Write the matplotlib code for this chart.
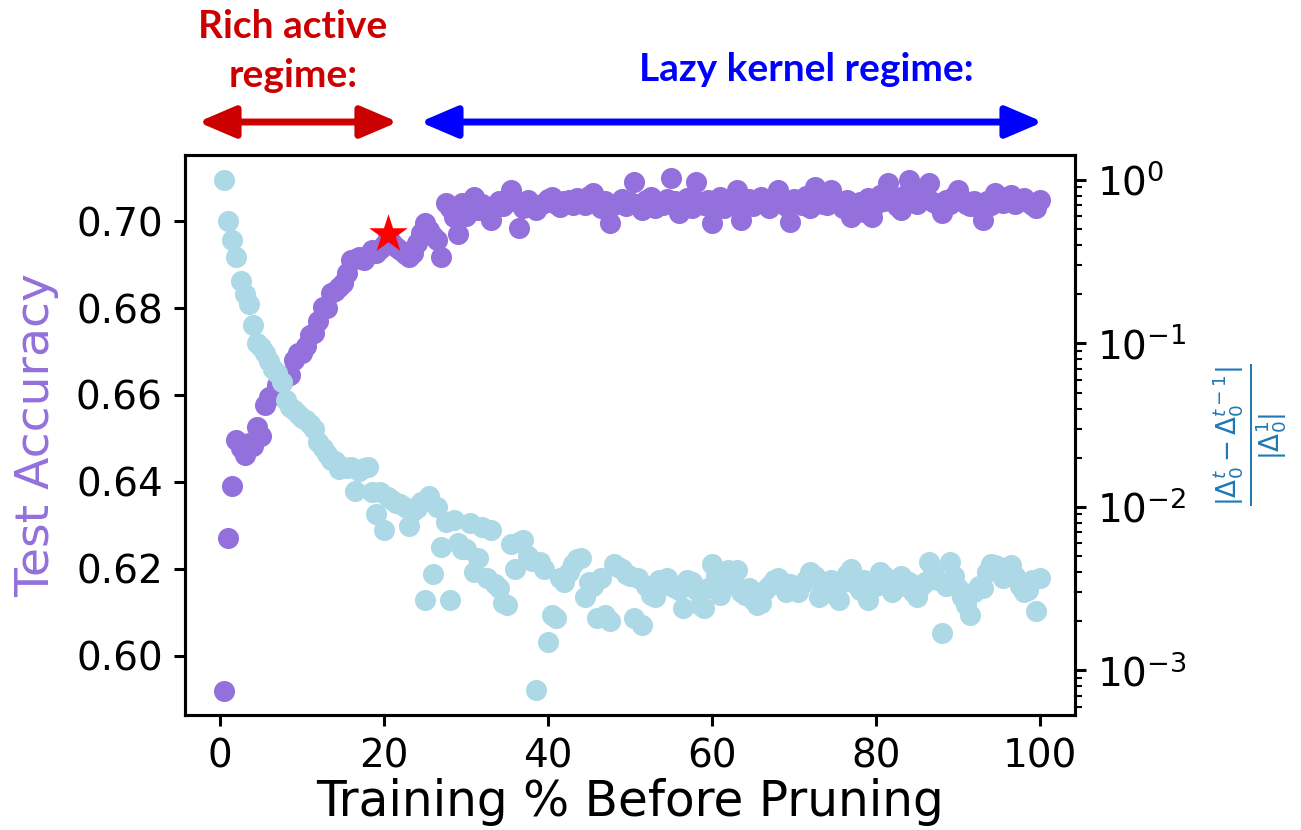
import numpy as np
import matplotlib.pyplot as plt

# training % before pruning (sample positions)
pct = [0.5, 1.0, 1.5, 2.0, 2.5, 3.0, 3.5, 4.0, 4.5, 5.0,
       5.5, 6.0, 6.5, 7.0, 7.5, 8.0, 8.5, 9.0, 9.5, 10.0,
       10.5, 11.0, 11.5, 12.0, 12.5, 13.0, 13.5, 14.0, 14.5, 15.0,
       15.5, 16.0, 16.5, 17.0, 17.5, 18.0, 18.5, 19.0, 19.5, 20.0,
       20.5, 21.0, 21.5, 22.0, 22.5, 23.0, 23.5, 24.0, 24.5, 25.0,
       25.5, 26.0, 26.5, 27.0, 27.5, 28.0, 28.5, 29.0, 29.5, 30.0,
       30.5, 31.0, 31.5, 32.0, 32.5, 33.0, 33.5, 34.0, 34.5, 35.0,
       35.5, 36.0, 36.5, 37.0, 37.5, 38.0, 38.5, 39.0, 39.5, 40.0,
       40.5, 41.0, 41.5, 42.0, 42.5, 43.0, 43.5, 44.0, 44.5, 45.0,
       45.5, 46.0, 46.5, 47.0, 47.5, 48.0, 48.5, 49.0, 49.5, 50.0,
       50.5, 51.0, 51.5, 52.0, 52.5, 53.0, 53.5, 54.0, 54.5, 55.0,
       55.5, 56.0, 56.5, 57.0, 57.5, 58.0, 58.5, 59.0, 59.5, 60.0,
       60.5, 61.0, 61.5, 62.0, 62.5, 63.0, 63.5, 64.0, 64.5, 65.0,
       65.5, 66.0, 66.5, 67.0, 67.5, 68.0, 68.5, 69.0, 69.5, 70.0,
       70.5, 71.0, 71.5, 72.0, 72.5, 73.0, 73.5, 74.0, 74.5, 75.0,
       75.5, 76.0, 76.5, 77.0, 77.5, 78.0, 78.5, 79.0, 79.5, 80.0,
       80.5, 81.0, 81.5, 82.0, 82.5, 83.0, 83.5, 84.0, 84.5, 85.0,
       85.5, 86.0, 86.5, 87.0, 87.5, 88.0, 88.5, 89.0, 89.5, 90.0,
       90.5, 91.0, 91.5, 92.0, 92.5, 93.0, 93.5, 94.0, 94.5, 95.0,
       95.5, 96.0, 96.5, 97.0, 97.5, 98.0, 98.5, 99.0, 99.5, 100.0]

test_acc = [0.5920, 0.6270, 0.6390, 0.6497, 0.6478, 0.6462, 0.6490, 0.6482, 0.6527, 0.6505,
            0.6577, 0.6595, 0.6600, 0.6623, 0.6630, 0.6641, 0.6645, 0.6680, 0.6697, 0.6697,
            0.6712, 0.6738, 0.6743, 0.6770, 0.6802, 0.6800, 0.6834, 0.6840, 0.6848, 0.6857,
            0.6880, 0.6910, 0.6912, 0.6917, 0.6910, 0.6922, 0.6933, 0.6926, 0.6935, 0.6945,
            0.6960, 0.6950, 0.6940, 0.6933, 0.6925, 0.6917, 0.6926, 0.6950, 0.6972, 0.6995,
            0.6980, 0.6965, 0.6956, 0.6917, 0.7041, 0.7030, 0.7010, 0.6970, 0.7041, 0.7012,
            0.7035, 0.7055, 0.7025, 0.7040, 0.7020, 0.7002, 0.7030, 0.7045, 0.7035, 0.7050,
            0.7071, 0.7045, 0.6984, 0.7030, 0.7048, 0.7035, 0.7025, 0.7038, 0.7042, 0.7050,
            0.7055, 0.7040, 0.7032, 0.7045, 0.7048, 0.7038, 0.7052, 0.7044, 0.7036, 0.7058,
            0.7064, 0.7040, 0.7030, 0.7046, 0.6995, 0.7038, 0.7042, 0.7050, 0.7035, 0.7044,
            0.7090, 0.7040, 0.7025, 0.7048, 0.7055, 0.7030, 0.7042, 0.7036, 0.7050, 0.7099,
            0.7045, 0.7018, 0.7040, 0.7052, 0.7030, 0.7090, 0.7044, 0.7036, 0.7048, 0.6995,
            0.7040, 0.7055, 0.7030, 0.7046, 0.7038, 0.7071, 0.7002, 0.7040, 0.7050, 0.7035,
            0.7045, 0.7055, 0.7040, 0.7030, 0.7048, 0.7071, 0.7042, 0.7035, 0.6998, 0.7050,
            0.7044, 0.7038, 0.7058, 0.7030, 0.7078, 0.7046, 0.7040, 0.7036, 0.7071, 0.7050,
            0.7042, 0.7030, 0.7048, 0.7009, 0.7038, 0.7044, 0.7020, 0.7052, 0.7009, 0.7040,
            0.7060, 0.7046, 0.7087, 0.7050, 0.7035, 0.7025, 0.7060, 0.7094, 0.7048, 0.7040,
            0.7055, 0.7070, 0.7087, 0.7044, 0.7036, 0.7018, 0.7048, 0.7040, 0.7058, 0.7071,
            0.7050, 0.7040, 0.7035, 0.7046, 0.7030, 0.7002, 0.7045, 0.7038, 0.7064, 0.7050,
            0.7042, 0.7055, 0.7060, 0.7040, 0.7048, 0.7052, 0.7044, 0.7038, 0.7030, 0.7048]

delta_ratio = [1.0, 0.56, 0.43, 0.34, 0.24, 0.20, 0.175, 0.13, 0.10, 0.095,
               0.087, 0.078, 0.070, 0.066, 0.058, 0.045, 0.041, 0.039, 0.037, 0.035,
               0.034, 0.032, 0.030, 0.025, 0.023, 0.021, 0.0195, 0.019, 0.017, 0.0175,
               0.0172, 0.0176, 0.0126, 0.0165, 0.0172, 0.0175, 0.0123, 0.0091, 0.0123, 0.0072,
               0.0115, 0.0110, 0.0106, 0.0105, 0.0100, 0.0076, 0.0095, 0.0098, 0.0108, 0.0027,
               0.0117, 0.0039, 0.0100, 0.0057, 0.0081, 0.0027, 0.0083, 0.0060, 0.0055, 0.0055,
               0.0080, 0.0040, 0.0049, 0.0075, 0.0037, 0.0072, 0.0034, 0.0032, 0.0026, 0.0025,
               0.0059, 0.0042, 0.0061, 0.0063, 0.0050, 0.0047, 0.00076, 0.0046, 0.0042, 0.0015,
               0.0022, 0.0021, 0.0037, 0.0035, 0.0040, 0.0045, 0.0048, 0.0049, 0.0028, 0.0035,
               0.0033, 0.0021, 0.0037, 0.0022, 0.0020, 0.0045, 0.0043, 0.0042, 0.0039, 0.0038,
               0.0021, 0.0037, 0.0019, 0.0033, 0.0029, 0.0028, 0.0036, 0.0034, 0.0037, 0.0033,
               0.0032, 0.0031, 0.0024, 0.0036, 0.0035, 0.0031, 0.0025, 0.0024, 0.0032, 0.0045,
               0.0038, 0.0029, 0.0033, 0.0041, 0.0037, 0.0041, 0.0030, 0.0029, 0.0032, 0.0027,
               0.0025, 0.0026, 0.0031, 0.0033, 0.0036, 0.0037, 0.0035, 0.0030, 0.0034, 0.0032,
               0.0030, 0.0034, 0.0036, 0.0040, 0.0038, 0.0028, 0.0032, 0.0034, 0.0036, 0.0029,
               0.0027, 0.0035, 0.0039, 0.0042, 0.0034, 0.0031, 0.0036, 0.0027, 0.0035, 0.0033,
               0.0040, 0.0038, 0.0034, 0.0030, 0.0036, 0.0038, 0.0033, 0.0035, 0.0030, 0.0028,
               0.0033, 0.0035, 0.0046, 0.0040, 0.0036, 0.0017, 0.0033, 0.0046, 0.0038, 0.0032,
               0.0028, 0.0025, 0.0022, 0.0030, 0.0033, 0.0032, 0.0040, 0.0045, 0.0044, 0.0043,
               0.0037, 0.0039, 0.0044, 0.0038, 0.0033, 0.0030, 0.0031, 0.0036, 0.0023, 0.0037]

best_pct = 20.5
best_acc = 0.697

fig = plt.figure(figsize=(13.01, 8.30), dpi=100)
ax = fig.add_axes([0.1422, 0.1386, 0.6841, 0.6747])
ax2 = ax.twinx()

ax.scatter(pct, test_acc, s=230, color='mediumpurple', linewidths=0)
ax.scatter([best_pct], [best_acc], s=850, marker='*', color='red', linewidths=0, zorder=5)
ax2.scatter(pct, delta_ratio, s=230, color='lightblue', linewidths=0)
ax2.set_yscale('log')

ax.set_xlim(-4.27, 104.27)
ax.set_ylim(0.5864, 0.7152)
ax2.set_ylim(10 ** -3.272, 10 ** 0.153)

ax.set_xticks([0, 20, 40, 60, 80, 100])
ax.set_yticks([0.60, 0.62, 0.64, 0.66, 0.68, 0.70])
ax.set_yticklabels(['0.60', '0.62', '0.64', '0.66', '0.68', '0.70'])

for a in (ax, ax2):
    for sp in a.spines.values():
        sp.set_linewidth(2.2)
    a.tick_params(which='major', labelsize=28, width=2.2, length=8, pad=8)
    a.tick_params(which='minor', width=1.5, length=5)

ax.set_xlabel('Training % Before Pruning', fontsize=35, labelpad=2)
ax.set_ylabel('Test Accuracy', fontsize=34, color='mediumpurple', labelpad=12)
ax2.set_ylabel(r'$\frac{|\Delta_0^t - \Delta_0^{t-1}|}{|\Delta_0^1|}$',
               fontsize=27, color='tab:blue', labelpad=18)

# regime annotations above the axes
arrow_style = '<|-|>,head_length=0.75,head_width=0.32'
ax.annotate('', xy=(0.1522, 0.853), xytext=(0.3059, 0.853), xycoords='figure fraction',
            arrowprops=dict(arrowstyle=arrow_style, mutation_scale=30, lw=5,
                            color='#cc0000', shrinkA=0, shrinkB=0))
ax.annotate('', xy=(0.3228, 0.853), xytext=(0.8017, 0.853), xycoords='figure fraction',
            arrowprops=dict(arrowstyle=arrow_style, mutation_scale=30, lw=5,
                            color='#0000ff', shrinkA=0, shrinkB=0))
tfont = ['Lato', 'DejaVu Sans']
fig.text(0.2252, 0.9675, 'Rich active', color='#cc0000', fontsize=28, fontweight='bold',
         family=tfont, ha='center', va='center')
fig.text(0.2252, 0.9096, 'regime:', color='#cc0000', fontsize=28, fontweight='bold',
         family=tfont, ha='center', va='center')
fig.text(0.6195, 0.9157, 'Lazy kernel regime:', color='#0000ff', fontsize=28, fontweight='bold',
         family=tfont, ha='center', va='center')

fig.savefig('out.png', dpi=100)
